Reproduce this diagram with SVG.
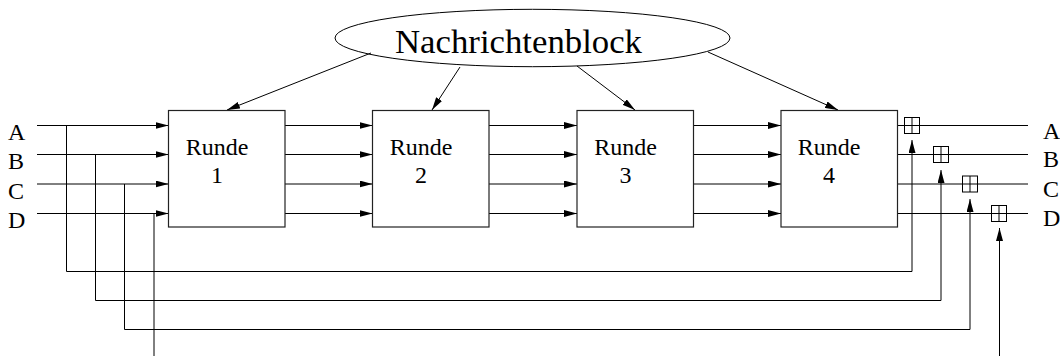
<svg xmlns="http://www.w3.org/2000/svg" width="1060" height="356" viewBox="0 0 1060 356">
<style>
  .ln{fill:none;stroke:#000;stroke-width:1}
  .box{fill:#fff;stroke:#222;stroke-width:1.2}
  .t{font-family:"Liberation Serif","Times New Roman",serif;font-size:24px;fill:#000}
  .xor{fill:#fff;stroke:#000;stroke-width:1}
</style>
<defs>
  <marker id="ah" markerUnits="userSpaceOnUse" markerWidth="13" markerHeight="7" refX="13" refY="3.5" orient="auto">
    <path d="M0,0 L13,3.5 L0,7 z" fill="#000"/>
  </marker>
</defs>
<rect width="1060" height="356" fill="#fff"/>

<g id="connectors">
  <!-- message block to rounds -->
  <line class="ln" x1="371" y1="53" x2="227" y2="110" marker-end="url(#ah)"/>
  <line class="ln" x1="460" y1="67" x2="432" y2="110" marker-end="url(#ah)"/>
  <line class="ln" x1="577" y1="66" x2="635" y2="110" marker-end="url(#ah)"/>
  <line class="ln" x1="708" y1="52" x2="838" y2="110" marker-end="url(#ah)"/>
  <!-- inputs -->
  <line class="ln" x1="37" y1="125.5" x2="168.5" y2="125.5" marker-end="url(#ah)"/>
  <line class="ln" x1="37" y1="154.5" x2="168.5" y2="154.5" marker-end="url(#ah)"/>
  <line class="ln" x1="37" y1="184" x2="168.5" y2="184" marker-end="url(#ah)"/>
  <line class="ln" x1="37" y1="213.5" x2="168.5" y2="213.5" marker-end="url(#ah)"/>
  <!-- round 1 -> 2 -->
  <line class="ln" x1="285" y1="125.5" x2="372.5" y2="125.5" marker-end="url(#ah)"/>
  <line class="ln" x1="285" y1="154.5" x2="372.5" y2="154.5" marker-end="url(#ah)"/>
  <line class="ln" x1="285" y1="184" x2="372.5" y2="184" marker-end="url(#ah)"/>
  <line class="ln" x1="285" y1="213.5" x2="372.5" y2="213.5" marker-end="url(#ah)"/>
  <!-- round 2 -> 3 -->
  <line class="ln" x1="489" y1="125.5" x2="577" y2="125.5" marker-end="url(#ah)"/>
  <line class="ln" x1="489" y1="154.5" x2="577" y2="154.5" marker-end="url(#ah)"/>
  <line class="ln" x1="489" y1="184" x2="577" y2="184" marker-end="url(#ah)"/>
  <line class="ln" x1="489" y1="213.5" x2="577" y2="213.5" marker-end="url(#ah)"/>
  <!-- round 3 -> 4 -->
  <line class="ln" x1="694" y1="125.5" x2="781" y2="125.5" marker-end="url(#ah)"/>
  <line class="ln" x1="694" y1="154.5" x2="781" y2="154.5" marker-end="url(#ah)"/>
  <line class="ln" x1="694" y1="184" x2="781" y2="184" marker-end="url(#ah)"/>
  <line class="ln" x1="694" y1="213.5" x2="781" y2="213.5" marker-end="url(#ah)"/>
  <!-- outputs -->
  <line class="ln" x1="898" y1="125.5" x2="1028" y2="125.5"/>
  <line class="ln" x1="898" y1="154.5" x2="1028" y2="154.5"/>
  <line class="ln" x1="898" y1="184" x2="1028" y2="184"/>
  <line class="ln" x1="898" y1="213.5" x2="1028" y2="213.5"/>
  <!-- feedback -->
  <polyline class="ln" points="66.5,125.5 66.5,271.5 912,271.5 912,140" marker-end="url(#ah)"/>
  <polyline class="ln" points="95.5,154.5 95.5,300.5 941,300.5 941,170" marker-end="url(#ah)"/>
  <polyline class="ln" points="124.5,184 124.5,329.5 970,329.5 970,199" marker-end="url(#ah)"/>
  <line class="ln" x1="154" y1="213.5" x2="154" y2="356"/>
  <line class="ln" x1="999.5" y1="356" x2="999.5" y2="228" marker-end="url(#ah)"/>
</g>

<g id="nachrichtenblock">
  <ellipse cx="532.5" cy="38" rx="197.5" ry="28.7" class="ln"/>
  <text x="395" y="52.5" class="t" style="font-size:33px" textLength="247" lengthAdjust="spacingAndGlyphs">Nachrichtenblock</text>
</g>

<g id="runde1">
  <rect class="box" x="168.5" y="110.5" width="116.5" height="116.5"/>
  <text class="t" x="217" y="155" text-anchor="middle">Runde</text>
  <text class="t" x="217" y="183" text-anchor="middle">1</text>
</g>
<g id="runde2">
  <rect class="box" x="372.5" y="110.5" width="116.5" height="116.5"/>
  <text class="t" x="421" y="155" text-anchor="middle">Runde</text>
  <text class="t" x="421" y="183" text-anchor="middle">2</text>
</g>
<g id="runde3">
  <rect class="box" x="577" y="110.5" width="116.5" height="116.5"/>
  <text class="t" x="625.5" y="155" text-anchor="middle">Runde</text>
  <text class="t" x="625.5" y="183" text-anchor="middle">3</text>
</g>
<g id="runde4">
  <rect class="box" x="781" y="110.5" width="116.5" height="116.5"/>
  <text class="t" x="829" y="155" text-anchor="middle">Runde</text>
  <text class="t" x="829" y="183" text-anchor="middle">4</text>
</g>

<g id="xor-a">
  <rect class="xor" x="904.5" y="117.5" width="15" height="16"/>
  <line class="ln" x1="904.5" y1="125.5" x2="919.5" y2="125.5"/>
  <line class="ln" x1="912" y1="117.5" x2="912" y2="133.5"/>
</g>
<g id="xor-b">
  <rect class="xor" x="933.5" y="146.5" width="15" height="16"/>
  <line class="ln" x1="933.5" y1="154.5" x2="948.5" y2="154.5"/>
  <line class="ln" x1="941" y1="146.5" x2="941" y2="162.5"/>
</g>
<g id="xor-c">
  <rect class="xor" x="962.5" y="176" width="15" height="16"/>
  <line class="ln" x1="962.5" y1="184" x2="977.5" y2="184"/>
  <line class="ln" x1="970" y1="176" x2="970" y2="192"/>
</g>
<g id="xor-d">
  <rect class="xor" x="991.5" y="205.5" width="15" height="16"/>
  <line class="ln" x1="991.5" y1="213.5" x2="1006.5" y2="213.5"/>
  <line class="ln" x1="999" y1="205.5" x2="999" y2="221.5"/>
</g>

<g id="labels-in">
  <text class="t" x="8" y="139.5">A</text>
  <text class="t" x="8" y="169">B</text>
  <text class="t" x="8" y="198.5">C</text>
  <text class="t" x="8" y="228">D</text>
</g>
<g id="labels-out">
  <text class="t" x="1043" y="139">A</text>
  <text class="t" x="1043" y="167">B</text>
  <text class="t" x="1043" y="197">C</text>
  <text class="t" x="1043" y="226">D</text>
</g>
</svg>
